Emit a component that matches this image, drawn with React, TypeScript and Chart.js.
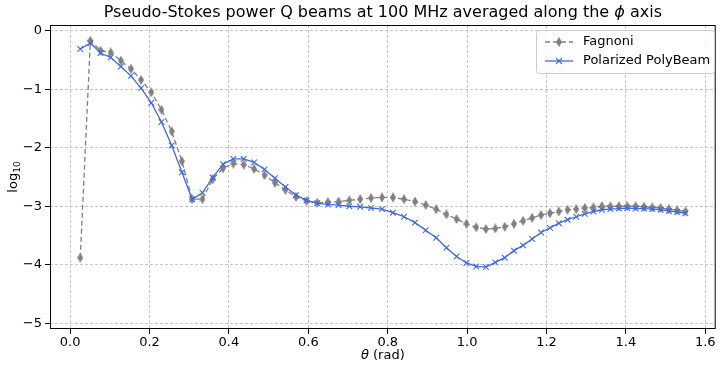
import React, { useEffect, useRef } from "react";
import { Chart, registerables } from "chart.js";

Chart.register(...registerables);

// Ring colatitudes (rad)
const THETA = [
  0.0255, 0.051, 0.0766, 0.1021, 0.1277, 0.1532, 0.1788, 0.2045, 0.2301, 0.2559,
  0.2816, 0.3074, 0.3332, 0.3591, 0.3851, 0.4111, 0.4372, 0.4634, 0.4897, 0.516,
  0.5425, 0.569, 0.5956, 0.6224, 0.6492, 0.6762, 0.7033, 0.7306, 0.758, 0.7855,
  0.8132, 0.8411, 0.8687, 0.8957, 0.9221, 0.948, 0.9734, 0.9984, 1.023, 1.0472,
  1.0711, 1.0947, 1.118, 1.141, 1.1638, 1.1864, 1.2088, 1.231, 1.253, 1.2748,
  1.2965, 1.3181, 1.3396, 1.3609, 1.3822, 1.4033, 1.4244, 1.4455, 1.4664, 1.4874,
  1.5083, 1.5291, 1.55,
];

// log10 of the phi-averaged Q beam
const FAGNONI = [
  -3.88, -0.17, -0.34, -0.37, -0.51, -0.65, -0.84, -1.05, -1.35, -1.72,
  -2.23, -2.88, -2.88, -2.54, -2.35, -2.27, -2.29, -2.36, -2.47, -2.6,
  -2.72, -2.84, -2.91, -2.94, -2.93, -2.92, -2.9, -2.88, -2.86, -2.85,
  -2.85, -2.88, -2.92, -2.98, -3.05, -3.14, -3.22, -3.3, -3.36, -3.39,
  -3.38, -3.35, -3.3, -3.25, -3.2, -3.15, -3.12, -3.09, -3.06, -3.05,
  -3.03, -3.02, -3.0, -3.0, -3.0, -3.0, -3.0, -3.01, -3.02, -3.03,
  -3.05, -3.07, -3.09,
];

const POLYBEAM = [
  -0.31, -0.21, -0.38, -0.455, -0.61, -0.77, -0.98, -1.23, -1.56, -1.96,
  -2.42, -2.88, -2.77, -2.51, -2.28, -2.19, -2.19, -2.25, -2.37, -2.52,
  -2.67, -2.81, -2.9, -2.95, -2.97, -2.98, -3.0, -3.01, -3.03, -3.05,
  -3.11, -3.18, -3.28, -3.41, -3.54, -3.71, -3.86, -3.97, -4.03, -4.04,
  -3.96, -3.88, -3.76, -3.67, -3.56, -3.45, -3.37, -3.29, -3.23, -3.18,
  -3.13, -3.09, -3.06, -3.05, -3.04, -3.03, -3.04, -3.04, -3.05, -3.06,
  -3.08, -3.1, -3.12,
];

const X_TICKS = [0, 0.2, 0.4, 0.6, 0.8, 1.0, 1.2, 1.4, 1.6];
const X_TICK_LABELS = ["0.0", "0.2", "0.4", "0.6", "0.8", "1.0", "1.2", "1.4", "1.6"];
const Y_TICKS = [-5, -4, -3, -2, -1, 0];
const Y_TICK_LABELS = ["\u22125", "\u22124", "\u22123", "\u22122", "\u22121", "0"];

const SERIES_NAMES = ["Fagnoni", "Polarized PolyBeam"];

const X_MIN = -0.0507;
const X_MAX = 1.6262;
const Y_MIN = -5.1;
const Y_MAX = 0.1;

const GRAY = "#808080";
const BLUE = "#4169e1";
const GRID = "#b9b9b9";
const FONT = '"DejaVu Sans", sans-serif';

function thinDiamond(color: string): HTMLCanvasElement {
  const c = document.createElement("canvas");
  c.width = 6;
  c.height = 10;
  const g = c.getContext("2d")!;
  g.fillStyle = color;
  g.beginPath();
  g.moveTo(3, 0);
  g.lineTo(6, 5);
  g.lineTo(3, 10);
  g.lineTo(0, 5);
  g.closePath();
  g.fill();
  return c;
}

function drawMixed(
  ctx: CanvasRenderingContext2D,
  parts: { text: string; font: string; dy?: number }[],
  cx: number,
  y: number
) {
  let total = 0;
  for (const p of parts) {
    ctx.font = p.font;
    total += ctx.measureText(p.text).width;
  }
  let x = cx - total / 2;
  ctx.textAlign = "left";
  for (const p of parts) {
    ctx.font = p.font;
    ctx.fillText(p.text, x, y + (p.dy || 0));
    x += ctx.measureText(p.text).width;
  }
}

export default function App() {
  const ref = useRef<HTMLCanvasElement>(null);

  useEffect(() => {
    document.body.style.margin = "0";
    const canvas = ref.current!;
    const diamond = thinDiamond(GRAY);

    const decor = {
      id: "decor",
      afterDraw(chart: any) {
        const ctx = chart.ctx as CanvasRenderingContext2D;
        const { left, right, top, bottom } = chart.chartArea;
        const cx = (left + right) / 2;
        ctx.save();

        // axes frame
        ctx.strokeStyle = "#000";
        ctx.lineWidth = 1;
        ctx.setLineDash([]);
        ctx.strokeRect(left + 0.5, top + 0.5, right - left - 1, bottom - top - 1);

        ctx.fillStyle = "#000";
        ctx.textBaseline = "alphabetic";

        // title
        drawMixed(
          ctx,
          [
            { text: "Pseudo-Stokes power Q beams at 100 MHz averaged along the ", font: `16px ${FONT}` },
            { text: "\u03d5", font: `italic 16px ${FONT}` },
            { text: " axis", font: `16px ${FONT}` },
          ],
          cx,
          17
        );

        // x label
        drawMixed(
          ctx,
          [
            { text: "\u03b8", font: `italic 13px ${FONT}` },
            { text: " (rad)", font: `13px ${FONT}` },
          ],
          cx,
          359
        );

        // y label
        ctx.save();
        ctx.translate(17, (top + bottom) / 2);
        ctx.rotate(-Math.PI / 2);
        drawMixed(
          ctx,
          [
            { text: "log", font: `13px ${FONT}` },
            { text: "10", font: `9px ${FONT}`, dy: 3 },
          ],
          0,
          0
        );
        ctx.restore();

        // legend
        const bx = 536, by = 30, bw = 178, bh = 43;
        ctx.beginPath();
        ctx.roundRect(bx + 0.5, by + 0.5, bw, bh, 3);
        ctx.fillStyle = "rgba(255,255,255,0.8)";
        ctx.fill();
        ctx.strokeStyle = "#cccccc";
        ctx.lineWidth = 1;
        ctx.stroke();

        const rows = [by + 12, by + 31];
        const hx0 = bx + 9, hx1 = bx + 37, hxm = (hx0 + hx1) / 2;

        // Fagnoni handle
        ctx.strokeStyle = GRAY;
        ctx.lineWidth = 1.3;
        ctx.setLineDash([5, 3]);
        ctx.beginPath();
        ctx.moveTo(hx0, rows[0]);
        ctx.lineTo(hx1, rows[0]);
        ctx.stroke();
        ctx.setLineDash([]);
        ctx.drawImage(diamond, hxm - 3, rows[0] - 5);

        // PolyBeam handle
        ctx.strokeStyle = BLUE;
        ctx.lineWidth = 1.3;
        ctx.beginPath();
        ctx.moveTo(hx0, rows[1]);
        ctx.lineTo(hx1, rows[1]);
        ctx.stroke();
        ctx.lineWidth = 1.1;
        ctx.beginPath();
        ctx.moveTo(hxm - 3, rows[1] - 3);
        ctx.lineTo(hxm + 3, rows[1] + 3);
        ctx.moveTo(hxm - 3, rows[1] + 3);
        ctx.lineTo(hxm + 3, rows[1] - 3);
        ctx.stroke();

        ctx.fillStyle = "#000";
        ctx.font = `13px ${FONT}`;
        ctx.textAlign = "left";
        ctx.textBaseline = "middle";
        ctx.fillText(SERIES_NAMES[0], bx + 47, rows[0]);
        ctx.fillText(SERIES_NAMES[1], bx + 47, rows[1]);

        ctx.restore();
      },
    };

    const tickFont = { family: FONT, size: 13 };

    const chart = new Chart(canvas, {
      type: "line",
      data: {
        datasets: [
          {
            label: SERIES_NAMES[0],
            data: THETA.map((t, i) => ({ x: t, y: FAGNONI[i] })),
            borderColor: GRAY,
            borderWidth: 1.3,
            borderDash: [5, 3],
            pointStyle: diamond as any,
            pointRadius: 4,
            order: 2,
            tension: 0,
          },
          {
            label: SERIES_NAMES[1],
            data: THETA.map((t, i) => ({ x: t, y: POLYBEAM[i] })),
            borderColor: BLUE,
            borderWidth: 1.3,
            pointStyle: "crossRot",
            pointRadius: 4,
            pointBorderColor: BLUE,
            pointBorderWidth: 1.1,
            order: 1,
            tension: 0,
          },
        ],
      },
      options: {
        animation: false,
        responsive: false,
        devicePixelRatio: 1,
        layout: { padding: { top: 25, right: 1, left: 0, bottom: 0 } },
        plugins: {
          legend: { display: false },
          tooltip: { enabled: false },
          title: { display: false },
        },
        scales: {
          x: {
            type: "linear",
            min: X_MIN,
            max: X_MAX,
            afterBuildTicks: (s: any) => {
              s.ticks = X_TICKS.map((v) => ({ value: v }));
            },
            afterFit: (s: any) => {
              s.height = 40;
            },
            ticks: {
              callback: (_v: any, i: number) => X_TICK_LABELS[i],
              font: tickFont,
              color: "#000",
              padding: 1,
              maxRotation: 0,
              autoSkip: false,
            },
            grid: {
              color: GRID,
              lineWidth: 0.8,
              tickColor: "#000",
              tickLength: 5,
              tickWidth: 1,
              tickBorderDash: [],
            },
            border: { display: false, dash: [3, 2] },
          },
          y: {
            type: "linear",
            min: Y_MIN,
            max: Y_MAX,
            afterBuildTicks: (s: any) => {
              s.ticks = Y_TICKS.map((v) => ({ value: v }));
            },
            afterFit: (s: any) => {
              s.width = 50;
            },
            ticks: {
              callback: (_v: any, i: number) => Y_TICK_LABELS[i],
              font: tickFont,
              color: "#000",
              padding: 3,
              autoSkip: false,
            },
            grid: {
              color: GRID,
              lineWidth: 0.8,
              tickColor: "#000",
              tickLength: 5,
              tickWidth: 1,
              tickBorderDash: [],
            },
            border: { display: false, dash: [3, 2] },
          },
        },
      },
      plugins: [decor],
    });

    return () => chart.destroy();
  }, []);

  return (
    <canvas
      ref={ref}
      width={721}
      height={369}
      style={{ display: "block", width: 721, height: 369 }}
    />
  );
}
